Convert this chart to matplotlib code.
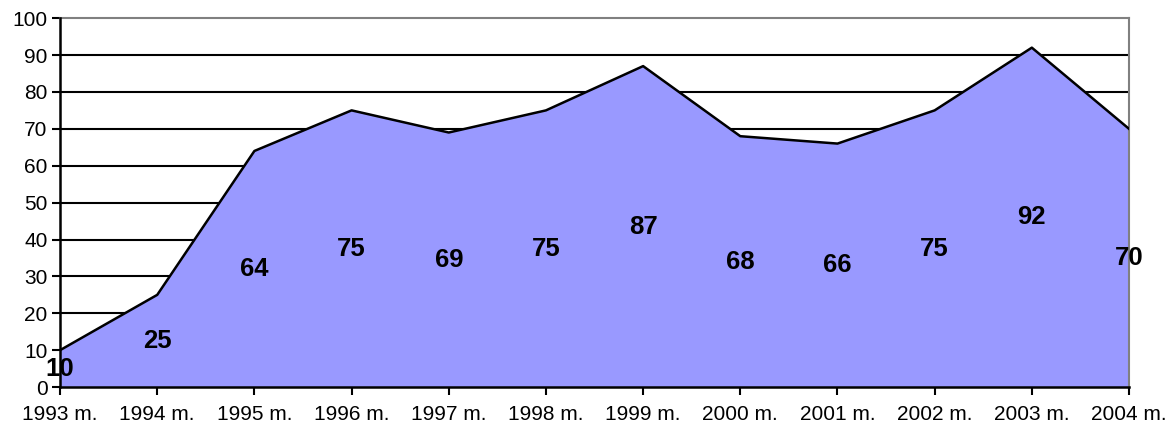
import matplotlib.pyplot as plt

plt.rcParams['font.family'] = ['Liberation Sans', 'DejaVu Sans']

years = ['1993 m.', '1994 m.', '1995 m.', '1996 m.', '1997 m.', '1998 m.',
         '1999 m.', '2000 m.', '2001 m.', '2002 m.', '2003 m.', '2004 m.']
values = [10, 25, 64, 75, 69, 75, 87, 68, 66, 75, 92, 70]

fig = plt.figure(figsize=(11.73, 4.32), dpi=100)
ax = fig.add_axes([0.0512, 0.104, 0.9113, 0.854])

x = list(range(len(years)))
# grid behind the area
for v in range(10, 100, 10):
    ax.axhline(v, color='black', lw=1.5, zorder=1)
ax.fill_between(x, values, 0, color='#9999FF', zorder=2)
ax.plot(x, values, color='black', lw=1.8, zorder=3)

for xi, v in zip(x, values):
    ax.text(xi, v / 2, str(v), ha='center', va='center', fontsize=18.5,
            fontweight='bold', zorder=4, clip_on=False)

ax.set_xlim(0, len(years) - 1)
ax.set_ylim(0, 100)
ax.set_yticks(range(0, 101, 10))
ax.set_xticks(x)
ax.set_xticklabels(years)
ax.tick_params(axis='both', labelsize=15, direction='out', length=6, width=1.5)
ax.tick_params(axis='x', pad=7)
ax.tick_params(axis='y', pad=3)

ax.spines['left'].set_linewidth(1.8)
ax.spines['bottom'].set_linewidth(1.8)
ax.spines['top'].set_color('#808080')
ax.spines['right'].set_color('#808080')
ax.spines['top'].set_linewidth(1.5)
ax.spines['right'].set_linewidth(1.5)
ax.spines['left'].set_zorder(5)
ax.spines['bottom'].set_zorder(5)

fig.savefig('out.png', dpi=100)
